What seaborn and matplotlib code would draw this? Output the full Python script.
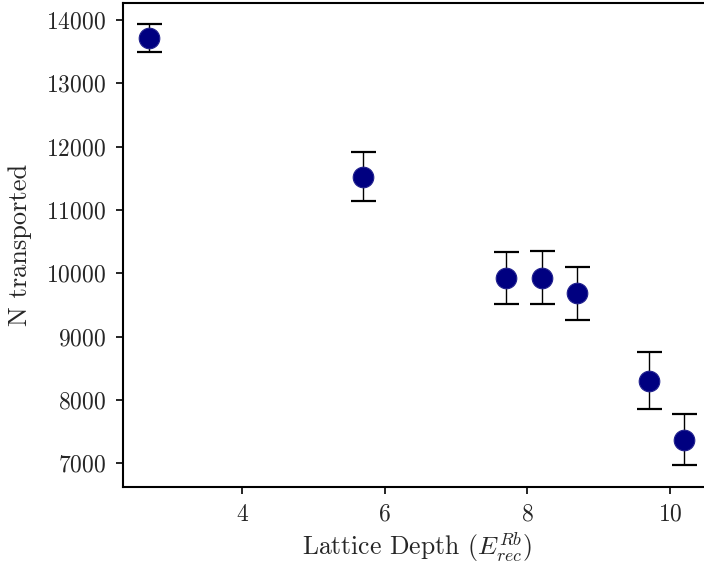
import matplotlib
matplotlib.use("Agg")
import matplotlib.pyplot as plt
import seaborn as sns
import pandas as pd

depth = [2.7, 5.7, 7.7, 8.2, 8.7, 9.7, 10.2]
n_transported = [13710, 11525, 9920, 9930, 9680, 8300, 7370]
n_err = [220, 385, 414, 413, 426, 450, 400]

sns.set_style("ticks")
plt.rcParams['font.family'] = ['serif']
plt.rcParams['font.serif'] = ['cmr10', 'DejaVu Serif']
plt.rcParams['mathtext.fontset'] = 'cm'
plt.rcParams['axes.formatter.use_mathtext'] = True

df = pd.DataFrame({"depth": depth, "n": n_transported, "err": n_err})

fig = plt.figure(figsize=(7.04, 5.69), dpi=100)
ax = fig.add_axes([0.1743, 0.1446, 0.8357, 0.8496])

ax.errorbar(df["depth"], df["n"], yerr=df["err"], fmt='none', ecolor='black',
            elinewidth=1.0, capsize=9, capthick=1.6, zorder=2)
sns.scatterplot(data=df, x="depth", y="n", ax=ax, color='navy', s=220,
                edgecolor='#23238f', linewidth=0.8, zorder=3)

ax.set_xlim(2.325, 10.575)
ax.set_ylim(6627, 14264)
ax.set_xticks([4, 6, 8, 10])
ax.set_yticks([7000, 8000, 9000, 10000, 11000, 12000, 13000, 14000])
ax.set_xlabel(r"Lattice Depth ($E^{Rb}_{rec}$)", fontsize=18.5, labelpad=3)
ax.set_ylabel("N transported", fontsize=19, labelpad=10)
ax.tick_params(labelsize=17, width=1.2, length=5, color='black', pad=7)
for s in ax.spines.values():
    s.set_linewidth(1.5)
    s.set_color('black')

fig.savefig("out.png", dpi=100)
